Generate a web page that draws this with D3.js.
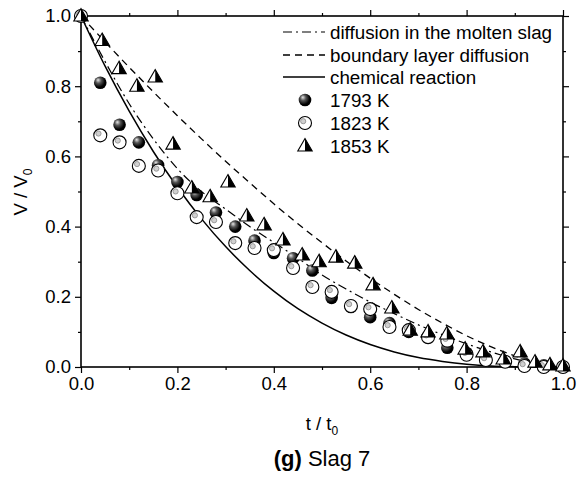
<!DOCTYPE html>
<html lang="en">
<head>
  <meta charset="UTF-8" />
  <title>Slag 7 - V/V0 vs t/t0</title>
  <script src="https://cdn.jsdelivr.net/npm/d3@7"></script>
  <style>
    html, body { margin: 0; padding: 0; background: #fff; }
    svg { display: block; }
    text { font-family: "Liberation Sans", Arial, sans-serif; fill: #000; }
  </style>
</head>
<body>
  <script>
    // model curves, every 0.05 of t/t0
    const tModel = [0, 0.05, 0.1, 0.15, 0.2, 0.25, 0.3, 0.35, 0.4, 0.45, 0.5,
                    0.55, 0.6, 0.65, 0.7, 0.75, 0.8, 0.85, 0.9, 0.95, 1.0];
    const vSlag = [1, 0.87, 0.75, 0.65, 0.565, 0.50, 0.45, 0.40, 0.355, 0.31, 0.262,
                   0.222, 0.185, 0.152, 0.12, 0.092, 0.066, 0.043, 0.023, 0.008, 0];
    const vBoundary = [1, 0.926, 0.854, 0.784, 0.716, 0.650, 0.586, 0.525, 0.465, 0.408, 0.354,
                       0.302, 0.253, 0.207, 0.164, 0.125, 0.089, 0.058, 0.032, 0.011, 0];
    const vChem = [1, 0.857, 0.729, 0.614, 0.512, 0.422, 0.343, 0.275, 0.216, 0.166, 0.125,
                   0.091, 0.064, 0.043, 0.027, 0.016, 0.008, 0.003, 0.001, 0, 0];

    // measured points
    const tA = [0, 0.04, 0.08, 0.12, 0.16, 0.20, 0.24, 0.28, 0.32, 0.36, 0.40, 0.44, 0.48,
                0.52, 0.56, 0.60, 0.64, 0.68, 0.72, 0.76, 0.80, 0.84, 0.88, 0.92, 0.96, 1.0];
    const v1793 = [1.0, 0.81, 0.69, 0.64, 0.575, 0.527, 0.49, 0.44, 0.40, 0.36, 0.325, 0.31, 0.275,
                   0.197, 0.171, 0.142, 0.125, 0.10, 0.085, 0.055, 0.04, 0.025, 0.015, 0.01, 0.005, 0.0];
    const v1823 = [1.0, 0.66, 0.64, 0.573, 0.56, 0.495, 0.427, 0.413, 0.353, 0.339, 0.333, 0.282, 0.228,
                   0.214, 0.174, 0.165, 0.114, 0.105, 0.085, 0.075, 0.035, 0.02, 0.015, 0.003, 0.0, 0.0];
    const t1853 = [0, 0.044, 0.079, 0.116, 0.154, 0.191, 0.230, 0.268, 0.305, 0.344, 0.380, 0.419, 0.459,
                   0.494, 0.529, 0.568, 0.606, 0.645, 0.683, 0.720, 0.759, 0.797, 0.834, 0.876, 0.911,
                   0.942, 0.973, 1.0];
    const v1853 = [1.0, 0.93, 0.85, 0.80, 0.826, 0.635, 0.51, 0.485, 0.527, 0.43, 0.405, 0.362, 0.319,
                   0.30, 0.313, 0.296, 0.234, 0.168, 0.105, 0.10, 0.094, 0.051, 0.043, 0.023, 0.043,
                   0.014, 0.006, 0.003];

    const majorTicks = [0, 0.2, 0.4, 0.6, 0.8, 1.0];
    const minorTicks = [0.1, 0.3, 0.5, 0.7, 0.9];
    const legendNames = ["diffusion in the molten slag", "boundary layer diffusion", "chemical reaction",
                         "1793 K", "1823 K", "1853 K"];

    const width = 577, height = 478;
    const plotL = 81, plotR = 563, plotT = 16, plotB = 367;

    const x = d3.scaleLinear().domain([0, 1]).range([plotL, plotR]);
    const y = d3.scaleLinear().domain([0, 1]).range([plotB, plotT]);

    const svg = d3.select("body").append("svg")
      .attr("width", width)
      .attr("height", height);

    const defs = svg.append("defs");
    const grad = defs.append("radialGradient")
      .attr("id", "ball")
      .attr("cx", "0.4").attr("cy", "0.4").attr("r", "0.65")
      .attr("fx", "0.32").attr("fy", "0.28");
    grad.append("stop").attr("offset", "0%").attr("stop-color", "#e8e8e8");
    grad.append("stop").attr("offset", "35%").attr("stop-color", "#555");
    grad.append("stop").attr("offset", "75%").attr("stop-color", "#000");
    grad.append("stop").attr("offset", "100%").attr("stop-color", "#000");

    // axes: major + minor ticks on all four sides, outward
    const fmt = d3.format(".1f");
    function drawAxis(axisFn, scale, transform, withLabels) {
      svg.append("g")
        .attr("transform", transform)
        .call(axisFn(scale).tickValues(minorTicks).tickSize(3).tickFormat(""))
        .call(g => g.select(".domain").remove())
        .call(g => g.selectAll("line").attr("stroke-width", 1.2));
      const g = svg.append("g")
        .attr("transform", transform)
        .call(axisFn(scale).tickValues(majorTicks).tickSize(6).tickPadding(4)
          .tickFormat(withLabels ? fmt : ""));
      g.select(".domain").remove();
      g.selectAll("line").attr("stroke-width", 1.2);
      g.selectAll("text")
        .style("font-size", "18.5px")
        .style("font-family", "'Liberation Sans', Arial, sans-serif");
      return g;
    }
    drawAxis(d3.axisBottom, x, `translate(0,${plotB})`, true);
    drawAxis(d3.axisTop, x, `translate(0,${plotT})`, false);
    drawAxis(d3.axisLeft, y, `translate(${plotL},0)`, true);
    drawAxis(d3.axisRight, y, `translate(${plotR},0)`, false);

    svg.append("rect")
      .attr("x", plotL).attr("y", plotT)
      .attr("width", plotR - plotL).attr("height", plotB - plotT)
      .attr("fill", "none").attr("stroke", "#000").attr("stroke-width", 1.6);

    // model curves
    const line = d3.line()
      .x(d => x(d[0]))
      .y(d => y(d[1]))
      .curve(d3.curveMonotoneX);

    const curves = [
      { v: vSlag, dash: "9,4,2,4", w: 1.2 },
      { v: vBoundary, dash: "7,5", w: 1.3 },
      { v: vChem, dash: null, w: 1.5 }
    ];
    curves.forEach(c => {
      svg.append("path")
        .datum(tModel.map((t, i) => [t, c.v[i]]))
        .attr("d", line)
        .attr("fill", "none")
        .attr("stroke", "#000")
        .attr("stroke-width", c.w)
        .attr("stroke-dasharray", c.dash);
    });

    // markers
    function ball(g) {
      g.append("circle").attr("r", 6.3).attr("fill", "url(#ball)");
    }
    function ring(g) {
      g.append("circle").attr("r", 6.5).attr("fill", "#fff").attr("stroke", "#000").attr("stroke-width", 1.1);
      g.append("circle").attr("cx", -1.8).attr("cy", -1.8).attr("r", 2.6)
        .attr("fill", "#d0d0d0").attr("stroke", "#8a8a8a").attr("stroke-width", 0.8);
    }
    function tri(g) {
      g.append("path").attr("d", "M0,-7.5L-7.2,5L7.2,5Z")
        .attr("fill", "#fff").attr("stroke", "#000").attr("stroke-width", 1.1);
      g.append("path").attr("d", "M0,-7.5L7.2,5L0,5Z").attr("fill", "#000");
    }

    function drawSeries(ts, vs, draw) {
      svg.append("g").selectAll("g")
        .data(ts.map((t, i) => [t, vs[i]]))
        .join("g")
        .attr("transform", d => `translate(${x(d[0])},${y(d[1])})`)
        .each(function () { draw(d3.select(this)); });
    }
    drawSeries(tA, v1793, ball);
    drawSeries(tA, v1823, ring);
    drawSeries(t1853, v1853, tri);

    // legend
    const legX = 330, sampleX0 = 283, sampleX1 = 325, markX = 305;
    const legY = [32, 55, 77, 100, 123, 146];
    const lg = svg.append("g");
    legendNames.forEach((name, i) => {
      lg.append("text")
        .attr("x", legX).attr("y", legY[i]).attr("dy", "0.35em")
        .style("font-size", "18.8px")
        .text(name);
    });
    curves.forEach((c, i) => {
      lg.append("line")
        .attr("x1", sampleX0).attr("x2", sampleX1)
        .attr("y1", legY[i]).attr("y2", legY[i])
        .attr("stroke", "#000").attr("stroke-width", c.w)
        .attr("stroke-dasharray", c.dash);
    });
    [ball, ring, tri].forEach((draw, i) => {
      draw(lg.append("g").attr("transform", `translate(${markX},${legY[i + 3]})`));
    });

    // axis titles
    const yt = svg.append("text")
      .attr("transform", `translate(27,192) rotate(-90)`)
      .attr("text-anchor", "middle")
      .style("font-size", "18.5px");
    yt.append("tspan").text("V / V");
    yt.append("tspan").attr("dy", 5).style("font-size", "12px").text("0");

    const xt = svg.append("text")
      .attr("x", (plotL + plotR) / 2).attr("y", 430)
      .attr("text-anchor", "middle")
      .style("font-size", "18.5px");
    xt.append("tspan").text("t / t");
    xt.append("tspan").attr("dy", 5).style("font-size", "12px").text("0");

    const title = svg.append("text")
      .attr("x", (plotL + plotR) / 2).attr("y", 466)
      .attr("text-anchor", "middle")
      .style("font-size", "22px");
    title.append("tspan").style("font-weight", "bold").text("(g)");
    title.append("tspan").text(" Slag 7");
  </script>
</body>
</html>
